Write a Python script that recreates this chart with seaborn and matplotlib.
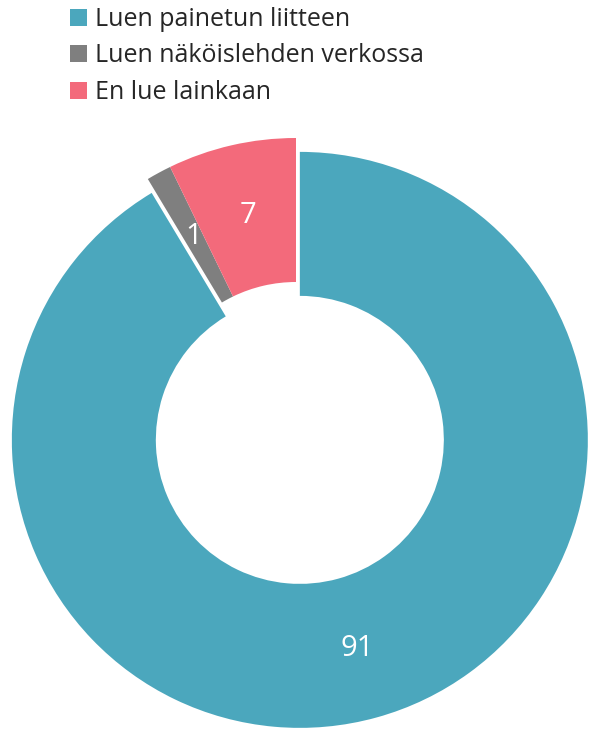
import matplotlib
matplotlib.use("Agg")
import matplotlib.pyplot as plt
import seaborn as sns

# Data (shares, labels are the rounded figures)
categories = ["Luen painetun liitteen", "Luen näköislehden verkossa", "En lue lainkaan"]
values = [91.4, 1.4, 7.2]
labels = ["91", "1", "7"]
colors = ["#4BA7BD", "#7F7F7F", "#F36A7B"]

sns.set_theme(style="white")
plt.rcParams["font.family"] = ["Open Sans", "DejaVu Sans"]

fig = plt.figure(figsize=(5.89, 7.29), dpi=100)
# axes sized so that radius 1 = 288 px
ax = fig.add_axes([8 / 589, 15 / 729, 576 / 589, 576 / 729])

wedges, texts, autotexts = ax.pie(
    values,
    colors=colors,
    startangle=90,
    counterclock=False,
    explode=[0.05, 0, 0],
    radius=1.0,
    pctdistance=0.75,
    autopct="%.0f",
    wedgeprops=dict(width=0.5, edgecolor="none"),
    textprops=dict(color="white", fontsize=21),
)
for w in wedges:
    w.set_clip_on(False)
for t, lab in zip(autotexts, labels):
    t.set_text(lab)

ax.set_xlim(-1, 1)
ax.set_ylim(-1, 1)
ax.set_aspect("equal")
ax.axis("off")

leg = fig.legend(
    wedges, categories,
    loc="upper left",
    bbox_to_anchor=(70 / 589, 1 - 7 / 729),
    frameon=False,
    fontsize=18,
    handlelength=0.68,
    handleheight=0.68,
    handletextpad=0.32,
    labelspacing=0.46,
    borderaxespad=0,
    borderpad=0,
)
for t in leg.get_texts():
    t.set_color("#262626")

fig.savefig("out.png", dpi=100)
